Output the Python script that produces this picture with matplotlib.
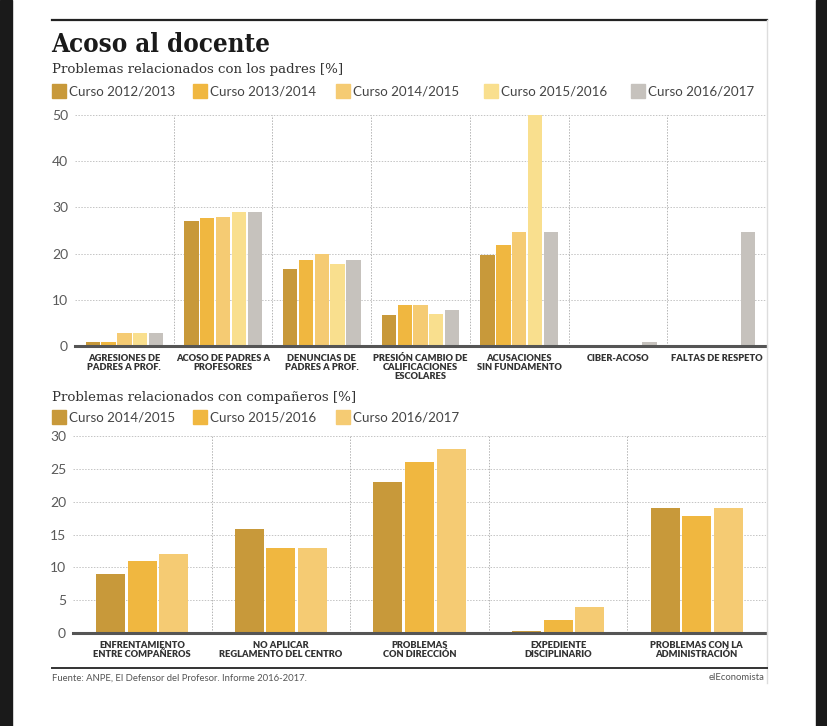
import numpy as np
import matplotlib.pyplot as plt
from matplotlib.patches import Rectangle
from matplotlib.lines import Line2D

# --- data ---
padres_cats = ["AGRESIONES DE\nPADRES A PROF.", "ACOSO DE PADRES A\nPROFESORES",
               "DENUNCIAS DE\nPADRES A PROF.", "PRESIÓN CAMBIO DE\nCALIFICACIONES\nESCOLARES",
               "ACUSACIONES\nSIN FUNDAMENTO", "CIBER-ACOSO", "FALTAS DE RESPETO"]
padres_series = ["Curso 2012/2013", "Curso 2013/2014", "Curso 2014/2015",
                 "Curso 2015/2016", "Curso 2016/2017"]
p_2012 = [0.8, 27, 16.7, 6.7, 19.7, np.nan, np.nan]
p_2013 = [0.8, 27.8, 18.7, 8.8, 21.8, np.nan, np.nan]
p_2014 = [2.8, 28, 20, 8.8, 24.6, np.nan, np.nan]
p_2015 = [2.8, 29, 17.8, 7, 50, np.nan, np.nan]
p_2016 = [2.8, 29, 18.7, 7.8, 24.7, 0.9, 24.6]

comp_cats = ["ENFRENTAMIENTO\nENTRE COMPAÑEROS", "NO APLICAR\nREGLAMENTO DEL CENTRO",
             "PROBLEMAS\nCON DIRECCIÓN", "EXPEDIENTE\nDISCIPLINARIO",
             "PROBLEMAS CON LA\nADMINISTRACIÓN"]
comp_series = ["Curso 2014/2015", "Curso 2015/2016", "Curso 2016/2017"]
c_2014 = [9, 15.8, 23, 0.3, 19]
c_2015 = [11, 13, 26, 2, 17.8]
c_2016 = [12, 13, 28, 4, 19]

padres_colors = ["#c8993a", "#f0b740", "#f5cb73", "#f9df8e", "#c6c2bd"]
comp_colors = ["#c8993a", "#f0b740", "#f5cb73"]

W, H = 828, 726
fig = plt.figure(figsize=(W / 100, H / 100), dpi=100)
fig.patch.set_facecolor("white")

def fx(px):
    return px / W

def fy(py):
    return 1 - py / H

# dark screenshot borders
fig.patches.append(Rectangle((0, 0), fx(12), 1, transform=fig.transFigure, color="#1a1a1a", zorder=0))
fig.patches.append(Rectangle((fx(816), 0), fx(12), 1, transform=fig.transFigure, color="#1a1a1a", zorder=0))

# frame lines
fig.add_artist(Line2D([fx(52), fx(767)], [fy(20), fy(20)], color="#222222", lw=1.6))
fig.add_artist(Line2D([fx(767), fx(767)], [fy(20), fy(683)], color="#dddddd", lw=1.0))
fig.add_artist(Line2D([fx(52), fx(767)], [fy(668), fy(668)], color="#333333", lw=1.4))

sans = ["Lato", "DejaVu Sans"]

fig.text(fx(51), fy(44), "Acoso al docente", fontsize=18.5, fontweight="heavy",
         family="DejaVu Serif", fontstretch="condensed", va="center", ha="left", color="#1a1a1a")
fig.text(fx(52), fy(70), "Problemas relacionados con los padres [%]", fontsize=9.6,
         family="DejaVu Serif", va="center", ha="left", color="#333333")
fig.text(fx(52), fy(397), "Problemas relacionados con compañeros [%]", fontsize=9.6,
         family="DejaVu Serif", va="center", ha="left", color="#333333")
fig.text(fx(52), fy(678), "Fuente: ANPE, El Defensor del Profesor. Informe 2016-2017.", fontsize=6.8,
         family=sans, va="center", ha="left", color="#555555")
fig.text(fx(765), fy(678), "elEconomista", fontsize=6.8,
         family=sans, va="center", ha="right", color="#555555")


def legend_row(labels, colors, xs, ypx):
    for lab, col, x in zip(labels, colors, xs):
        fig.patches.append(Rectangle((fx(x), fy(ypx + 7)), fx(14), 14 / H,
                                     transform=fig.transFigure, color=col))
        fig.text(fx(x + 17), fy(ypx), lab, fontsize=9.6, family=sans,
                 va="center", ha="left", color="#444444")


legend_row(padres_series, padres_colors, [52, 193, 336, 484, 631], 91)
legend_row(comp_series, comp_colors, [52, 193, 336], 417)


def panel(rect, cats, series, colors, ymax, ystep, width, step):
    ax = fig.add_axes(rect)
    n = len(cats)
    k = len(series)
    x = np.arange(n) + 0.5
    for i, (vals, col) in enumerate(zip(series, colors)):
        ax.bar(x + (i - (k - 1) / 2) * step, vals, width=width, color=col, zorder=2)
    ax.set_xlim(0, n)
    ax.set_ylim(0, ymax)
    ax.set_yticks(np.arange(0, ymax + 0.1, ystep))
    for y in np.arange(ystep, ymax + 0.1, ystep):
        ax.axhline(y, color="#c4c4c4", lw=0.7, ls=(0, (1.5, 1.5)), zorder=1)
    for xv in range(1, n):
        ax.axvline(xv, color="#b4b4b4", lw=0.7, ls=(0, (1.5, 1.5)), zorder=1)
    ax.axhline(0, color="#555555", lw=2.2, zorder=3, clip_on=False)
    for s in ax.spines.values():
        s.set_visible(False)
    ax.tick_params(axis="y", length=0, pad=5, labelsize=10, labelcolor="#5a5a5a")
    for lab in ax.get_yticklabels():
        lab.set_family(sans)
    ax.set_xticks(x)
    ax.set_xticklabels(cats, fontsize=6.7, fontweight="heavy", family=sans,
                       color="#333333", linespacing=1.0)
    ax.tick_params(axis="x", length=0, pad=6)
    return ax


panel([fx(75), fy(346), fx(766 - 75), (346 - 115) / H], padres_cats,
      [p_2012, p_2013, p_2014, p_2015, p_2016], padres_colors, 50, 10, 0.145, 0.16)
panel([fx(73), fy(633), fx(766 - 73), (633 - 436) / H], comp_cats,
      [c_2014, c_2015, c_2016], comp_colors, 30, 5, 0.21, 0.228)

fig.savefig("out.png", dpi=100)
